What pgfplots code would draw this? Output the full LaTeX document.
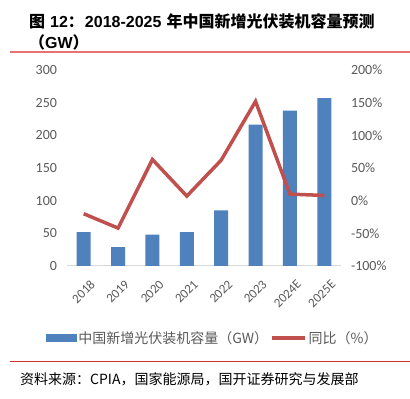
\documentclass[border=0pt]{standalone}
\usepackage{pgfplots}
\pgfplotsset{compat=1.18}
\usepackage{fontspec}
\setmainfont{Carlito}
\newfontfamily\cjk{Noto Sans CJK SC}
\newfontfamily\arialf{Liberation Sans}
\definecolor{barblue}{HTML}{4F81BD}
\definecolor{linered}{HTML}{C0504D}
\definecolor{ticks}{HTML}{595959}
\definecolor{axisgrey}{HTML}{D9D9D9}
\definecolor{ruleA}{HTML}{E57373}
\definecolor{ruleB}{HTML}{D03030}
\begin{document}
\begin{tikzpicture}[x=1bp,y=1bp]
\useasboundingbox (0,0) rectangle (410,399);
\begin{axis}[
  at={(66.5bp,133bp)}, anchor=south west, scale only axis,
  width=275bp, height=196bp,
  xmin=-0.5, xmax=7.5, ymin=0, ymax=300,
  axis x line*=bottom, axis y line*=left,
  x axis line style={draw=axisgrey, line width=1bp},
  y axis line style={draw=none},
  xtick={0,1,2,3,4,5,6,7},
  xticklabels={2018,2019,2020,2021,2022,2023,2024E,2025E},
  ytick={0,50,100,150,200,250,300},
  yticklabels={0,50,100,150,200,250,300},
  major tick length=0pt,
  tick label style={text=ticks, font=\fontsize{14bp}{16bp}\selectfont},
  xticklabel style={rotate=45, anchor=east, xshift=-4bp, yshift=-18bp, inner sep=1bp, font=\fontsize{13bp}{15bp}\selectfont},
  yticklabel style={xshift=-6bp},
  clip=false,
]
\addplot[ybar, bar width=14bp, fill=barblue, draw=none] coordinates {
 (0,52) (1,29) (2,48) (3,52) (4,85) (5,216.5) (6,238) (7,257)
};
\end{axis}
\begin{axis}[
  at={(66.5bp,133bp)}, anchor=south west, scale only axis,
  width=275bp, height=196bp,
  xmin=-0.5, xmax=7.5, ymin=-100, ymax=200,
  axis x line=none, axis y line*=right,
  y axis line style={draw=none},
  ytick={-100,-50,0,50,100,150,200},
  yticklabels={-100\%,-50\%,0\%,50\%,100\%,150\%,200\%},
  major tick length=0pt,
  yticklabel style={text=ticks, font=\fontsize{14bp}{16bp}\selectfont, xshift=6bp},
  clip=false,
  legend style={draw=none, fill=none, legend columns=2,
    at={(axis description cs:0.532,-0.367)}, anchor=center,
    font=\cjk\fontsize{14bp}{16bp}\selectfont, text=ticks,
    inner sep=0pt},
]
\addlegendimage{legend image code/.code={\fill[barblue] (0bp,-3.5bp) rectangle (30bp,3.5bp);}}
\addlegendentry{中国新增光伏装机容量（GW）\hspace{9bp}}
\addplot[linered, line width=3.5bp, no marks,
  legend image code/.code={\draw[linered, line width=3.5bp] (0bp,0bp)--(33bp,0bp);}] coordinates {
 (0,-20) (1,-42) (2,63) (3,7) (4,62) (5,152) (6,10) (7,8)
};
\addlegendentry{同比（\%）}
\end{axis}
\node[anchor=base west, inner sep=0, font=\fontsize{16bp}{20bp}\selectfont\bfseries] at (29,372)
  {{\cjk 图}\hspace{5bp}{\arialf 12}{\cjk ：}\hspace{1bp}{\arialf 2018-2025}\hspace{5bp}{\cjk 年中国新增光伏装机容量预测}};
\node[anchor=base west, inner sep=0, font=\fontsize{16bp}{20bp}\selectfont\bfseries] at (29,351)
  {{\cjk （}{\arialf GW}{\cjk ）}};
\draw[ruleA, line width=1.2bp] (10,347)--(410,347);
\draw[ruleB, line width=1bp] (10,37.3)--(410,37.3);
\node[anchor=base west, inner sep=0, font=\cjk\fontsize{14bp}{16bp}\selectfont] at (20,15)
  {资料来源：CPIA，国家能源局，国开证券研究与发展部};
\end{tikzpicture}
\end{document}
